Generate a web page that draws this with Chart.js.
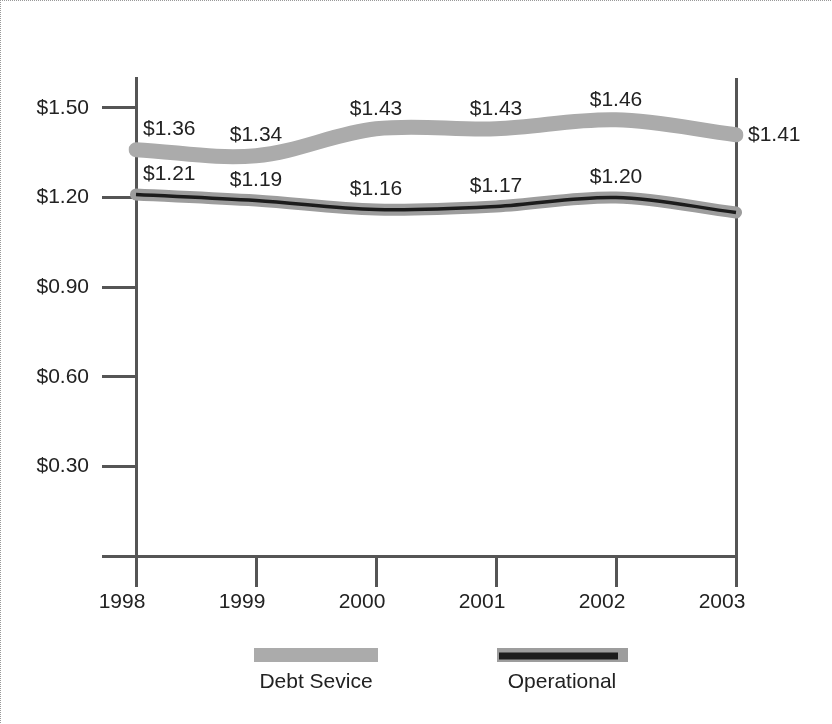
<!DOCTYPE html>
<html>
<head>
<meta charset="utf-8">
<script src="https://cdn.jsdelivr.net/npm/chart.js@4.4.1/dist/chart.umd.min.js"></script>
<style>
  html, body { margin: 0; padding: 0; background: #fff; }
  canvas { display: block; }
</style>
</head>
<body>
<canvas id="chart" width="832" height="724"></canvas>
<script>
const years = ['1998', '1999', '2000', '2001', '2002', '2003'];
const debtService = [1.36, 1.34, 1.43, 1.43, 1.46, 1.41];
const operational = [1.21, 1.19, 1.16, 1.17, 1.20, 1.15];
const yTicks = [0, 0.3, 0.6, 0.9, 1.2, 1.5];
const seriesNames = ['Debt Sevice', 'Operational'];

const FONT = '"Liberation Sans", Arial, sans-serif';
const SIZE = 21;
const INK = '#222';
const AXIS = '#555';

// dotted frame along the top and left edges
const frame = {
  id: 'frame',
  beforeDraw(chart) {
    const { ctx, width, height } = chart;
    ctx.save();
    ctx.strokeStyle = '#999';
    ctx.lineWidth = 1;
    ctx.setLineDash([1, 1]);
    ctx.beginPath();
    ctx.moveTo(0, 0.5);
    ctx.lineTo(width, 0.5);
    ctx.moveTo(0.5, 0);
    ctx.lineTo(0.5, height);
    ctx.stroke();
    ctx.restore();
  },
};

// "$x.xx" text above each point
const valueLabels = {
  id: 'valueLabels',
  afterDatasetsDraw(chart) {
    const { ctx } = chart;
    ctx.save();
    ctx.font = SIZE + 'px ' + FONT;
    ctx.fillStyle = INK;
    ctx.textBaseline = 'middle';
    chart.data.datasets.forEach((ds, i) => {
      if (!ds.valueLabels) return;
      const pts = chart.getDatasetMeta(i).data;
      const last = pts.length - 1;
      pts.forEach((pt, j) => {
        if (j === last && ds.skipLast) return;
        const text = '$' + ds.data[j].toFixed(2);
        if (j === 0) {
          ctx.textAlign = 'left';
          ctx.fillText(text, pt.x + 7, pt.y - 20);
        } else if (j === last) {
          ctx.textAlign = 'left';
          ctx.fillText(text, pt.x + 12, pt.y);
        } else {
          ctx.textAlign = 'center';
          ctx.fillText(text, pt.x, pt.y - 20);
        }
      });
    });
    ctx.restore();
  },
};

// legend below the axis: swatch on top, name underneath
const bottomLegend = {
  id: 'bottomLegend',
  afterDraw(chart) {
    const { ctx } = chart;
    const slots = [316, 562];
    const ds = chart.data.datasets;
    ctx.save();
    ctx.lineCap = 'butt';

    ctx.strokeStyle = ds[0].borderColor;
    ctx.lineWidth = 14;
    ctx.beginPath();
    ctx.moveTo(slots[0] - 62, 655);
    ctx.lineTo(slots[0] + 62, 655);
    ctx.stroke();

    ctx.strokeStyle = ds[1].borderColor;
    ctx.lineWidth = 14;
    ctx.beginPath();
    ctx.moveTo(slots[1] - 65, 655);
    ctx.lineTo(slots[1] + 66, 655);
    ctx.stroke();
    ctx.strokeStyle = ds[2].borderColor;
    ctx.lineWidth = 7;
    ctx.beginPath();
    ctx.moveTo(slots[1] - 63, 656);
    ctx.lineTo(slots[1] + 56, 656);
    ctx.stroke();

    ctx.font = SIZE + 'px ' + FONT;
    ctx.fillStyle = INK;
    ctx.textAlign = 'center';
    ctx.textBaseline = 'middle';
    seriesNames.forEach((name, i) => ctx.fillText(name, slots[i], 682));
    ctx.restore();
  },
};

const config = {
  type: 'line',
  data: {
    labels: years,
    datasets: [
      {
        label: seriesNames[0],
        data: debtService,
        borderColor: '#ababab',
        borderWidth: 15,
        tension: 0.35,
        pointRadius: 0,
        borderCapStyle: 'round',
        valueLabels: true,
        order: 2,
      },
      {
        label: seriesNames[1],
        data: operational,
        borderColor: '#9d9d9d',
        borderWidth: 12,
        tension: 0.35,
        pointRadius: 0,
        borderCapStyle: 'round',
        valueLabels: true,
        skipLast: true,
        order: 1,
      },
      {
        label: '',
        data: operational,
        borderColor: '#1c1c1c',
        borderWidth: 3.5,
        tension: 0.35,
        pointRadius: 0,
        order: 0,
      },
    ],
  },
  options: {
    responsive: false,
    animation: false,
    events: [],
    layout: { padding: { top: 78, right: 96, left: 0, bottom: 0 } },
    scales: {
      x: {
        offset: false,
        afterFit: (s) => { s.height = 168; },
        grid: {
          drawOnChartArea: true,
          color: (c) => (c.index === years.length - 1 ? AXIS : 'transparent'),
          tickColor: AXIS,
          lineWidth: 3,
          tickLength: 31,
        },
        border: { display: true, color: AXIS, width: 3 },
        ticks: {
          color: INK,
          font: { family: FONT, size: SIZE },
          padding: 3,
          labelOffset: -14,
          maxRotation: 0,
          autoSkip: false,
        },
      },
      y: {
        min: 0,
        max: 1.6,
        afterFit: (s) => { s.width = 136; },
        afterBuildTicks: (s) => { s.ticks = yTicks.map((v) => ({ value: v })); },
        grid: {
          drawOnChartArea: false,
          tickColor: AXIS,
          lineWidth: 3,
          tickLength: 34,
        },
        border: { display: true, color: AXIS, width: 3 },
        ticks: {
          color: INK,
          font: { family: FONT, size: SIZE },
          padding: 13,
          callback: (v) => (v === 0 ? '' : '$' + v.toFixed(2)),
        },
      },
    },
    plugins: {
      legend: { display: false },
      tooltip: { enabled: false },
    },
  },
  plugins: [frame, valueLabels, bottomLegend],
};

new Chart(document.getElementById('chart'), config);
</script>
</body>
</html>
